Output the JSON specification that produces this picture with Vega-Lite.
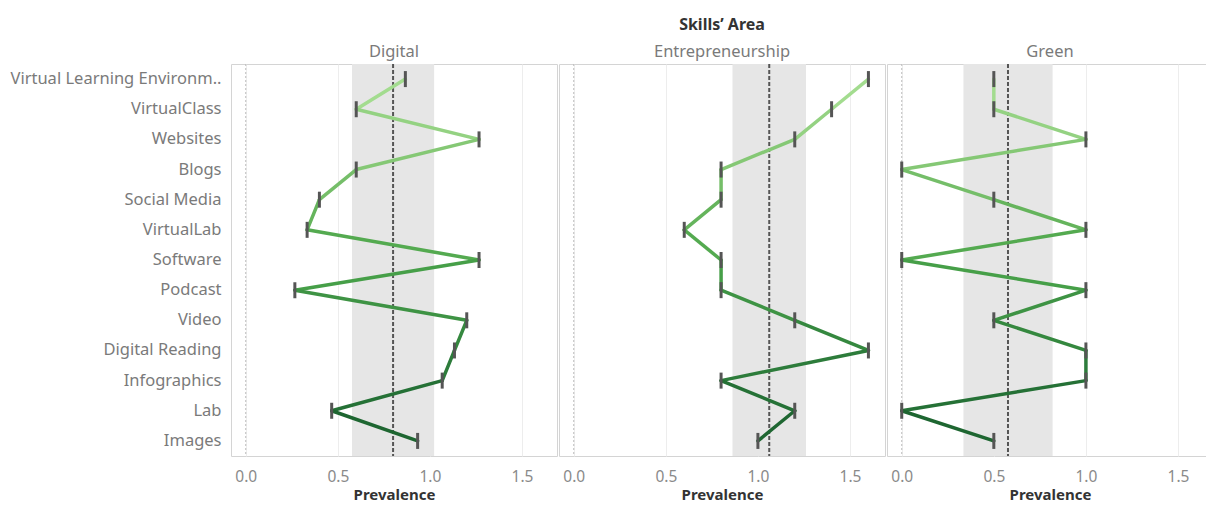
{
  "$schema": "https://vega.github.io/schema/vega-lite/v6.json",
  "padding": {"left": 10, "top": 17, "right": 0, "bottom": 0},
  "background": "white",
  "config": {
    "font": "Noto Sans",
    "view": {"stroke": "#d4d4d4", "strokeWidth": 1},
    "axis": {"domain": false, "ticks": false}
  },
  "data": {
    "values": [
      {"kind": "pt", "area": "Digital", "order": 0, "tool": "Virtual Learning Environment", "prevalence": 0.8667},
      {"kind": "pt", "area": "Digital", "order": 1, "tool": "VirtualClass", "prevalence": 0.6},
      {"kind": "pt", "area": "Digital", "order": 2, "tool": "Websites", "prevalence": 1.2667},
      {"kind": "pt", "area": "Digital", "order": 3, "tool": "Blogs", "prevalence": 0.6},
      {"kind": "pt", "area": "Digital", "order": 4, "tool": "Social Media", "prevalence": 0.4},
      {"kind": "pt", "area": "Digital", "order": 5, "tool": "VirtualLab", "prevalence": 0.3333},
      {"kind": "pt", "area": "Digital", "order": 6, "tool": "Software", "prevalence": 1.2667},
      {"kind": "pt", "area": "Digital", "order": 7, "tool": "Podcast", "prevalence": 0.2667},
      {"kind": "pt", "area": "Digital", "order": 8, "tool": "Video", "prevalence": 1.2},
      {"kind": "pt", "area": "Digital", "order": 9, "tool": "Digital Reading", "prevalence": 1.1333},
      {"kind": "pt", "area": "Digital", "order": 10, "tool": "Infographics", "prevalence": 1.0667},
      {"kind": "pt", "area": "Digital", "order": 11, "tool": "Lab", "prevalence": 0.4667},
      {"kind": "pt", "area": "Digital", "order": 12, "tool": "Images", "prevalence": 0.9333},
      {"kind": "pt", "area": "Entrepreneurship", "order": 0, "tool": "Virtual Learning Environment", "prevalence": 1.6},
      {"kind": "pt", "area": "Entrepreneurship", "order": 1, "tool": "VirtualClass", "prevalence": 1.4},
      {"kind": "pt", "area": "Entrepreneurship", "order": 2, "tool": "Websites", "prevalence": 1.2},
      {"kind": "pt", "area": "Entrepreneurship", "order": 3, "tool": "Blogs", "prevalence": 0.8},
      {"kind": "pt", "area": "Entrepreneurship", "order": 4, "tool": "Social Media", "prevalence": 0.8},
      {"kind": "pt", "area": "Entrepreneurship", "order": 5, "tool": "VirtualLab", "prevalence": 0.6},
      {"kind": "pt", "area": "Entrepreneurship", "order": 6, "tool": "Software", "prevalence": 0.8},
      {"kind": "pt", "area": "Entrepreneurship", "order": 7, "tool": "Podcast", "prevalence": 0.8},
      {"kind": "pt", "area": "Entrepreneurship", "order": 8, "tool": "Video", "prevalence": 1.2},
      {"kind": "pt", "area": "Entrepreneurship", "order": 9, "tool": "Digital Reading", "prevalence": 1.6},
      {"kind": "pt", "area": "Entrepreneurship", "order": 10, "tool": "Infographics", "prevalence": 0.8},
      {"kind": "pt", "area": "Entrepreneurship", "order": 11, "tool": "Lab", "prevalence": 1.2},
      {"kind": "pt", "area": "Entrepreneurship", "order": 12, "tool": "Images", "prevalence": 1.0},
      {"kind": "pt", "area": "Green", "order": 0, "tool": "Virtual Learning Environment", "prevalence": 0.5},
      {"kind": "pt", "area": "Green", "order": 1, "tool": "VirtualClass", "prevalence": 0.5},
      {"kind": "pt", "area": "Green", "order": 2, "tool": "Websites", "prevalence": 1.0},
      {"kind": "pt", "area": "Green", "order": 3, "tool": "Blogs", "prevalence": 0.0},
      {"kind": "pt", "area": "Green", "order": 4, "tool": "Social Media", "prevalence": 0.5},
      {"kind": "pt", "area": "Green", "order": 5, "tool": "VirtualLab", "prevalence": 1.0},
      {"kind": "pt", "area": "Green", "order": 6, "tool": "Software", "prevalence": 0.0},
      {"kind": "pt", "area": "Green", "order": 7, "tool": "Podcast", "prevalence": 1.0},
      {"kind": "pt", "area": "Green", "order": 8, "tool": "Video", "prevalence": 0.5},
      {"kind": "pt", "area": "Green", "order": 9, "tool": "Digital Reading", "prevalence": 1.0},
      {"kind": "pt", "area": "Green", "order": 10, "tool": "Infographics", "prevalence": 1.0},
      {"kind": "pt", "area": "Green", "order": 11, "tool": "Lab", "prevalence": 0.0},
      {"kind": "pt", "area": "Green", "order": 12, "tool": "Images", "prevalence": 0.5},
      {"kind": "ref", "area": "Digital", "avg": 0.8, "ci_low": 0.577, "ci_high": 1.023},
      {"kind": "ref", "area": "Entrepreneurship", "avg": 1.0615, "ci_low": 0.862, "ci_high": 1.261},
      {"kind": "ref", "area": "Green", "avg": 0.5769, "ci_low": 0.335, "ci_high": 0.819}
    ]
  },
  "facet": {
    "column": {
      "field": "area",
      "type": "nominal",
      "header": {
        "title": "Skills’ Area",
        "titleFontSize": 16,
        "titleFontWeight": "bold",
        "titleColor": "#333333",
        "titlePadding": 0,
        "labelFontSize": 16.5,
        "labelColor": "#7a7a7a",
        "labelPadding": 2
      }
    }
  },
  "spacing": 0,
  "resolve": {"scale": {"x": "shared", "y": "shared"}},
  "spec": {
    "width": 326,
    "height": 392,
    "layer": [
      {
        "transform": [{"filter": "datum.kind === 'ref'"}],
        "mark": {"type": "rect", "color": "#e6e6e6"},
        "encoding": {
          "x": {"field": "ci_low", "type": "quantitative",
                "scale": {"domain": [-0.08, 1.69], "nice": false, "zero": false},
                "axis": {"values": [0, 0.5, 1, 1.5], "format": ".1f", "grid": true,
                         "gridColor": "#ededed", "labelFontSize": 15.5, "labelColor": "#8a8a8a",
                         "labelPadding": 11, "title": "Prevalence", "titleFontSize": 15,
                         "titleFontWeight": "bold", "titleColor": "#333333", "titlePadding": 3}},
          "x2": {"field": "ci_high"}
        }
      },
      {
        "transform": [{"filter": "datum.kind === 'ref'"}],
        "mark": {"type": "rule", "color": "#bdbdbd", "strokeWidth": 1, "strokeDash": [2, 2]},
        "encoding": {"x": {"datum": 0, "type": "quantitative"}}
      },
      {
        "transform": [{"filter": "datum.kind === 'ref'"}],
        "mark": {"type": "rule", "color": "#555555", "strokeWidth": 2, "strokeDash": [4, 2]},
        "encoding": {"x": {"field": "avg", "type": "quantitative"}}
      },
      {
        "transform": [
          {"filter": "datum.kind === 'pt'"},
          {"window": [{"op": "lead", "field": "prevalence", "as": "next_prevalence"},
                      {"op": "lead", "field": "tool", "as": "next_tool"}],
           "groupby": ["area"], "sort": [{"field": "order"}]},
          {"filter": "datum.next_tool != null"}
        ],
        "mark": {"type": "rule", "strokeWidth": 3.5, "strokeCap": "round"},
        "encoding": {
          "x": {"field": "prevalence", "type": "quantitative"},
          "x2": {"field": "next_prevalence"},
          "y": {"field": "tool", "type": "nominal",
                "sort": ["Virtual Learning Environment", "VirtualClass", "Websites", "Blogs", "Social Media", "VirtualLab", "Software", "Podcast", "Video", "Digital Reading", "Infographics", "Lab", "Images"],
                "axis": {"title": null, "labelFontSize": 16.5, "labelColor": "#7a7a7a", "labelPadding": 9,
                         "labelLimit": 300,
                         "labelExpr": "datum.label == 'Virtual Learning Environment' ? 'Virtual Learning Environm..' : datum.label"}},
          "y2": {"field": "next_tool"},
          "color": {"field": "order", "type": "quantitative", "legend": null,
                    "scale": {"domain": [0, 11], "range": ["#a3dc8f", "#4ba54a", "#1e6631"]}}
        }
      },
      {
        "transform": [{"filter": "datum.kind === 'pt'"}],
        "mark": {"type": "tick", "color": "#555555", "thickness": 3, "size": 16, "opacity": 1},
        "encoding": {
          "x": {"field": "prevalence", "type": "quantitative"},
          "y": {"field": "tool", "type": "nominal",
                "sort": ["Virtual Learning Environment", "VirtualClass", "Websites", "Blogs", "Social Media", "VirtualLab", "Software", "Podcast", "Video", "Digital Reading", "Infographics", "Lab", "Images"]}
        }
      }
    ]
  }
}
